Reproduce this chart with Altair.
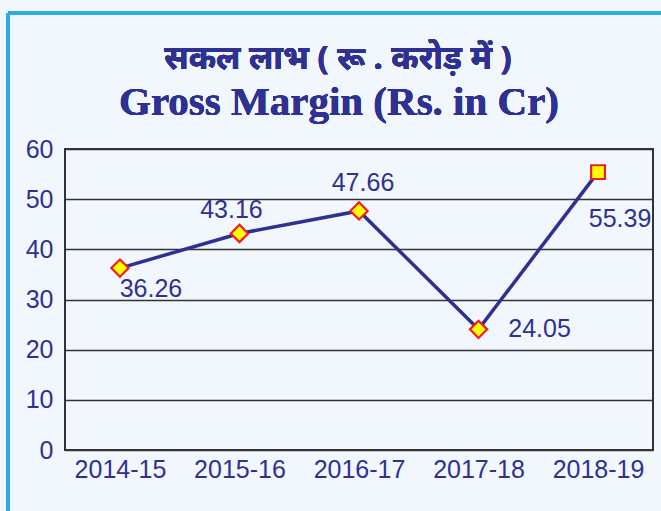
import altair as alt
import pandas as pd

years = ["2014-15", "2015-16", "2016-17", "2017-18", "2018-19"]
margin = [36.26, 43.16, 47.66, 24.05, 55.39]
labels = ["36.26", "43.16", "47.66", "24.05", "55.39"]
shapes = ["diamond", "diamond", "diamond", "diamond", "square"]

title_hi = "सकल लाभ ( रू . करोड़ में )"
title_en = "Gross Margin (Rs. in Cr)"

df = pd.DataFrame({"year": years, "value": margin, "label": labels, "shape": shapes})

NAVY = "#2e3192"
W, H = 588, 301
FS = 25

x = alt.X("year:N", sort=years,
          scale=alt.Scale(type="point", padding=0.46),
          axis=alt.Axis(title=None, labelAngle=0, labelFontSize=FS, labelColor=NAVY,
                        labelFont="Liberation Sans", ticks=False, domain=False, grid=False,
                        labelPadding=7))
y = alt.Y("value:Q", scale=alt.Scale(domain=[0, 60], nice=False),
          axis=alt.Axis(title=None, values=[0, 10, 20, 30, 40, 50, 60], labelFontSize=FS,
                        labelColor=NAVY, labelFont="Liberation Sans", ticks=False,
                        domain=False, gridColor="#333333", gridWidth=1.5, gridOpacity=1,
                        labelPadding=12))

base = alt.Chart(df)

frame_v = base.mark_rule(color="#29abe2", strokeWidth=3).encode(
    x=alt.value(-57), y=alt.value(-136), y2=alt.value(H + 70))
frame_h = base.mark_rule(color="#29abe2", strokeWidth=3).encode(
    x=alt.value(-57), x2=alt.value(W + 20), y=alt.value(-136))

t_hi = base.mark_text(font="Noto Sans", fontSize=33, fontWeight="bold", color=NAVY,
                      baseline="alphabetic", align="center").encode(
    x=alt.value(273), y=alt.value(-80), text=alt.value(title_hi))
t_en = base.mark_text(font="Liberation Serif", fontSize=41, fontWeight="bold", color=NAVY,
                      baseline="alphabetic", align="center").encode(
    x=alt.value(274), y=alt.value(-34), text=alt.value(title_en))

line = base.mark_line(color=NAVY, strokeWidth=3.5).encode(x=x, y=y)
pts_d = base.transform_filter(alt.datum.shape == "diamond").mark_point(
    shape="diamond", size=300, filled=True, fill="#ffff00", stroke="#ee1c24",
    strokeWidth=2.2, opacity=1).encode(x=x, y=y)
pts_s = base.transform_filter(alt.datum.shape == "square").mark_point(
    shape="square", size=190, filled=True, fill="#ffff00", stroke="#ee1c24",
    strokeWidth=2.2, opacity=1).encode(x=x, y=y)

offsets = {"2014-15": (31, 21), "2015-16": (-8, -23), "2016-17": (4, -28),
           "2017-18": (61, 0), "2018-19": (22, 47)}
texts = []
for yr, (dx, dy) in offsets.items():
    texts.append(base.transform_filter(alt.datum.year == yr).mark_text(
        dx=dx, dy=dy, fontSize=FS, color=NAVY, font="Liberation Sans").encode(
        x=x, y=y, text="label:N"))

chart = alt.layer(frame_v, frame_h, t_hi, t_en, line, pts_d, pts_s, *texts).properties(
    width=W, height=H,
    autosize=alt.AutoSizeParams(type="none"),
    padding={"left": 65, "top": 149, "right": 8, "bottom": 61},
    background="#f1f7fc",
).configure_view(stroke="#333333", strokeWidth=2)

chart.save("out.html", embed_options={"renderer": "svg", "actions": False})
